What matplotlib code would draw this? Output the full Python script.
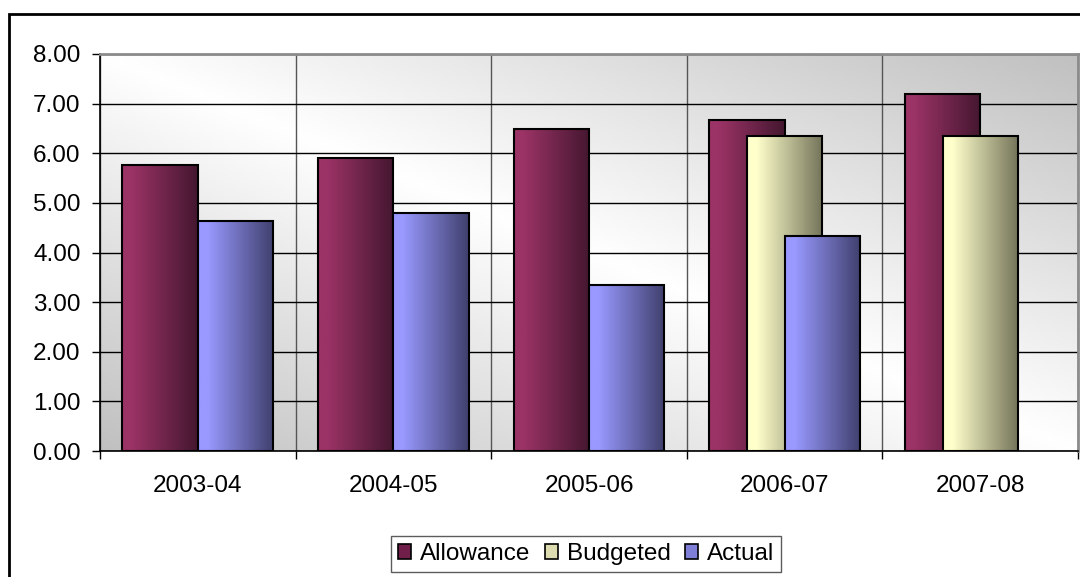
import numpy as np
import matplotlib
matplotlib.use('Agg')
import matplotlib.pyplot as plt
from matplotlib.colors import LinearSegmentedColormap
from matplotlib.patches import Rectangle, Patch

plt.rcParams['font.family'] = ['Liberation Sans', 'DejaVu Sans']
plt.rcParams['font.size'] = 17.5

# Data
years = ['2003-04', '2004-05', '2005-06', '2006-07', '2007-08']
allowance = [5.77, 5.91, 6.49, 6.68, 7.20]
budgeted = [np.nan, np.nan, np.nan, 6.34, 6.34]
actual = [4.64, 4.79, 3.35, 4.33, np.nan]

series = [
    ('Allowance', allowance, '#9b3366', '#451730', '#701f4a'),
    ('Budgeted', budgeted, '#ffffcc', '#74745a', '#dcdcb0'),
    ('Actual', actual, '#9999ff', '#40406e', '#7f7fd8'),
]

fig = plt.figure(figsize=(10.8, 5.77), dpi=100)
ax = fig.add_axes([100 / 1080, 1 - 451 / 577, 978 / 1080, 397 / 577])

x = np.arange(len(years))
width = 0.385
offsets = [-width / 2, 0, width / 2]

# plot area background: white along the main diagonal, grey towards
# the top-right and bottom-left corners
gx, gy = np.meshgrid(np.linspace(0, 1, 300), np.linspace(0, 1, 300))
d = np.abs(gx - (1 - gy))
bg_cmap = LinearSegmentedColormap.from_list('bg', ['#ffffff', '#c0c0c0'])
ax.imshow(d, cmap=bg_cmap, extent=(-0.5, len(years) - 0.5, 0, 8),
          origin='lower', aspect='auto', zorder=0, vmin=0, vmax=1)

grad = np.linspace(0, 1, 64).reshape(1, -1)
for i, (name, vals, c1, c2, _) in enumerate(series):
    cmap = LinearSegmentedColormap.from_list(name, [(0, c1), (0.12, c1), (1, c2)])
    bars = ax.bar(x + offsets[i], vals, width, facecolor='none',
                  edgecolor='black', linewidth=1.5, zorder=3 + i + 0.5)
    for b in bars:
        h = b.get_height()
        if np.isnan(h):
            continue
        x0 = b.get_x()
        ax.imshow(grad, cmap=cmap, aspect='auto', zorder=3 + i,
                  extent=(x0, x0 + b.get_width(), 0, h))

ax.set_xlim(-0.5, len(years) - 0.5)
ax.set_ylim(0, 8)

# ticks and grid
ax.set_yticks(np.arange(0, 8.01, 1))
ax.set_yticklabels([f'{v:.2f}' for v in np.arange(0, 8.01, 1)])
ax.set_xticks(x)
ax.set_xticklabels(years)
ax.set_xticks(np.arange(-0.5, len(years), 1), minor=True)
ax.yaxis.grid(True, color='black', linewidth=1.0, zorder=1)
ax.xaxis.grid(True, which='minor', color='#555555', linewidth=1.0, zorder=1)
ax.set_axisbelow(True)

ax.tick_params(axis='y', direction='out', length=6, width=1, pad=8)
ax.tick_params(axis='x', which='major', length=0, pad=17)
ax.tick_params(axis='x', which='minor', direction='out', length=6, width=1)

for s in ['left', 'bottom']:
    ax.spines[s].set_color('black')
    ax.spines[s].set_linewidth(1.2)
for s in ['top', 'right']:
    ax.spines[s].set_color('#8c8c8c')
    ax.spines[s].set_linewidth(2)

# legend
handles = [Patch(facecolor=s[4], edgecolor='black', linewidth=1.2, label=s[0])
           for s in series]
leg = fig.legend(handles=handles, loc='center', ncol=3,
                 bbox_to_anchor=(586 / 1080, 1 - 554 / 577),
                 frameon=True, fancybox=False, handlelength=0.55,
                 handleheight=0.55, handletextpad=0.35, columnspacing=0.6,
                 borderpad=0.3)
leg.get_frame().set_edgecolor('#333333')
leg.get_frame().set_linewidth(1.0)

# chart border
fig.patches.append(Rectangle((9 / 1080, -0.1), 1.2, 1 - 14 / 577 + 0.1,
                             transform=fig.transFigure, fill=False,
                             edgecolor='black', linewidth=2))

fig.savefig('out.png', dpi=100)
